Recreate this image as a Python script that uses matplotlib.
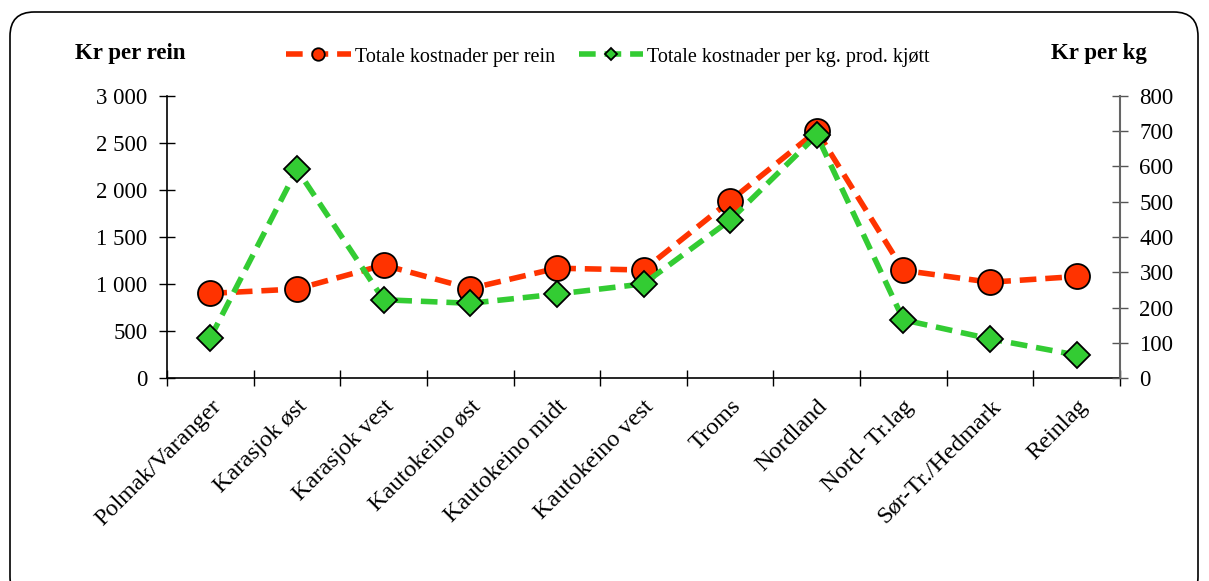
import matplotlib
matplotlib.use("Agg")
import matplotlib.pyplot as plt
from matplotlib.patches import FancyBboxPatch
from matplotlib.ticker import FuncFormatter, FixedLocator
import numpy as np

categories = ["Polmak/Varanger", "Karasjok øst", "Karasjok vest", "Kautokeino øst",
              "Kautokeino midt", "Kautokeino vest", "Troms", "Nordland",
              "Nord- Tr.lag", "Sør-Tr./Hedmark", "Reinlag"]
cost_per_rein = [900, 947, 1202, 952, 1168, 1149, 1885, 2628, 1145, 1019, 1080]
cost_per_kg = [114, 592, 222, 212, 238, 267, 448, 689, 165, 111, 65]
left_ticks = [0, 500, 1000, 1500, 2000, 2500, 3000]
right_ticks = [0, 100, 200, 300, 400, 500, 600, 700, 800]

plt.rcParams['font.family'] = ['Liberation Serif', 'DejaVu Serif']

W, H = 1209, 581
fig = plt.figure(figsize=(W/100, H/100), dpi=100)

# border
border = FancyBboxPatch((10/W, -20/H), (1198-10)/W, (581-12+20)/H,
                        boxstyle="round,pad=0,rounding_size=0.02",
                        transform=fig.transFigure, fill=False,
                        edgecolor='black', linewidth=1.2, mutation_aspect=W/H)
fig.patches.append(border)

ax = fig.add_axes([167/W, 1-378/H, (1120-167)/W, (378-96)/H])
ax2 = ax.twinx()

x = np.arange(len(categories))
red = '#ff3300'
green = '#33cc33'

ax.plot(x, cost_per_rein, color=red, lw=4, dashes=(3, 1.6), marker='o',
        markersize=18, markerfacecolor=red, markeredgecolor='black',
        markeredgewidth=1.3, zorder=3, label='Totale kostnader per rein')
ax2.plot(x, cost_per_kg, color=green, lw=4, dashes=(3, 1.6), marker='D',
         markersize=13, markerfacecolor=green, markeredgecolor='black',
         markeredgewidth=1.3, zorder=3, label='Totale kostnader per kg. prod. kjøtt')

ax.set_xlim(-0.5, len(categories) - 0.5)
ax.set_ylim(0, 3000)
ax2.set_ylim(0, 800)

fmt = FuncFormatter(lambda v, p: f"{int(v):,}".replace(",", " "))
ax.yaxis.set_major_locator(FixedLocator(left_ticks))
ax.yaxis.set_major_formatter(fmt)
ax2.yaxis.set_major_locator(FixedLocator(right_ticks))

ax.set_xticks(x)
ax.set_xticklabels(categories, rotation=45, ha='right', rotation_mode='anchor',
                   fontsize=17.5)
ax.xaxis.set_minor_locator(FixedLocator(np.arange(-0.5, len(categories), 1.0)))
ax.tick_params(axis='x', which='major', length=0, pad=13)
ax.tick_params(axis='x', which='minor', direction='inout', length=12, width=1)
ax.tick_params(axis='y', direction='inout', length=12, width=1, labelsize=16.5, pad=8)
ax2.tick_params(axis='y', direction='inout', length=12, width=1, labelsize=16.5,
                pad=8, color='#555555')

for s in ['top', 'right']:
    ax.spines[s].set_visible(False)
for s in ['top', 'left', 'bottom']:
    ax2.spines[s].set_visible(False)
ax2.spines['right'].set_color('#666666')
ax2.spines['right'].set_linewidth(1.5)
ax.spines['left'].set_linewidth(1.2)
ax.spines['bottom'].set_linewidth(1.2)

fig.text(75/W, 1-53/H, "Kr per rein", fontsize=16.5, fontweight='bold',
         ha='left', va='center')
fig.text(1147/W, 1-53/H, "Kr per kg", fontsize=16.5, fontweight='bold',
         ha='right', va='center')

h1, l1 = ax.get_legend_handles_labels()
h2, l2 = ax2.get_legend_handles_labels()
leg = fig.legend(h1 + h2, l1 + l2, loc='center', bbox_to_anchor=(608/W, 1-57/H),
                 ncol=2, frameon=False, fontsize=14.5, handlelength=3.2,
                 columnspacing=1.2, handletextpad=0.2, markerscale=0.5)

fig.savefig("out.png", dpi=100)
